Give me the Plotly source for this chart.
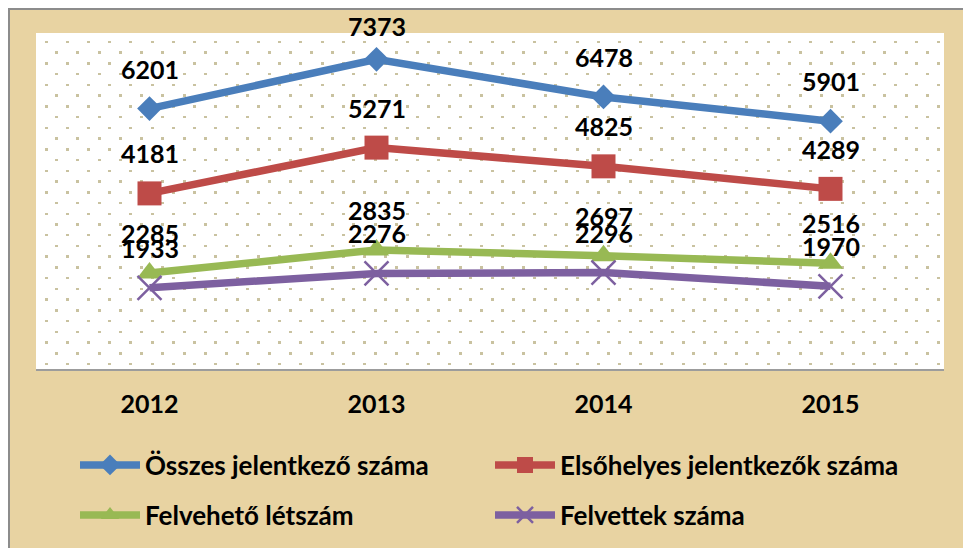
import plotly.graph_objects as go

# ---- data ----
years = ["2012", "2013", "2014", "2015"]
osszes = [6201, 7373, 6478, 5901]
elsohelyes = [4181, 5271, 4825, 4289]
felveheto = [2285, 2835, 2697, 2516]
felvettek = [1933, 2276, 2296, 1970]
names = ["Összes jelentkező száma", "Elsőhelyes jelentkezők száma",
         "Felvehető létszám", "Felvettek száma"]

colors = ["#4A7EBB", "#BE4B48", "#98B954", "#7D60A0"]
symbols = ["diamond", "square", "triangle-up", "x-thin"]
sizes = [19, 24, 22, 24]
legends = ["legend", "legend", "legend2", "legend2"]
series = [osszes, elsohelyes, felveheto, felvettek]

FONT = "Lato"
TAN = "#E8D3A2"
W, H = 971, 548
L, R, T, B = 28, 35, 25, 187
PLOT_H = H - T - B
YMAX = 8000

fig = go.Figure()

# invisible carriers for the two overlay axes that draw the dotted pattern
for ax in ["x2", "x3"]:
    fig.add_trace(go.Scatter(x=[None], y=[None], xaxis=ax, yaxis="y", mode="lines",
                             showlegend=False, hoverinfo="skip"))

for name, vals, col, sym, sz, lg in zip(names, series, colors, symbols, sizes, legends):
    fig.add_trace(go.Scatter(
        x=years, y=vals, name=name, mode="lines+markers",
        line=dict(color=col, width=7.5),
        marker=dict(symbol=sym, size=sz, color=col,
                    line=dict(color=col, width=2.5 if sym == "x-thin" else 0)),
        legend=lg, cliponaxis=False,
    ))

# data labels above points (category index used as x position);
# the offset is reduced near the top so a label never leaves the chart
for vals in series:
    for i, v in enumerate(vals):
        room = T + (1 - v / YMAX) * PLOT_H - 18
        fig.add_annotation(x=i, y=v, xref="x", yref="y", text=str(v),
                           showarrow=False, yshift=min(40, room),
                           font=dict(family=FONT, size=25, color="#000000", weight="bold"))

dot_color = "#C9C2A0"
legend_font = dict(family=FONT, size=26, color="#000000", weight="bold")
fig.update_layout(
    width=W, height=H,
    margin=dict(l=L, r=R, t=T, b=B),
    paper_bgcolor=TAN, plot_bgcolor="#FFFFFF",
    xaxis=dict(type="category", range=[-0.5, 3.5], showgrid=False, zeroline=False,
               showline=True, linecolor="#9C9C9C", linewidth=2,
               ticks="outside", ticklen=12, tickcolor="rgba(0,0,0,0)",
               tickfont=dict(family=FONT, size=25, color="#000000", weight="bold")),
    xaxis2=dict(overlaying="x", anchor="y", range=[0, 908], showticklabels=False,
                showgrid=True, tick0=10, dtick=21.24, gridcolor=dot_color, gridwidth=2.5,
                griddash="0px,7.75px,2.5px,11.22px", zeroline=False, ticks=""),
    xaxis3=dict(overlaying="x", anchor="y", range=[0, 908], showticklabels=False,
                showgrid=True, tick0=20.62, dtick=21.24, gridcolor=dot_color, gridwidth=2.5,
                griddash="0px,18.48px,2.5px,0.49px", zeroline=False, ticks=""),
    yaxis=dict(range=[0, YMAX], showgrid=False, zeroline=False, showticklabels=False,
               showline=False, ticks=""),
    legend=dict(orientation="h", xref="container", yref="container",
                x=67 / W, y=1 - 457 / H, xanchor="left", yanchor="middle",
                entrywidth=340, entrywidthmode="pixels", itemwidth=60,
                font=legend_font, bgcolor="rgba(0,0,0,0)"),
    legend2=dict(orientation="h", xref="container", yref="container",
                 x=67 / W, y=1 - 507 / H, xanchor="left", yanchor="middle",
                 entrywidth=340, entrywidthmode="pixels", itemwidth=60,
                 font=legend_font, bgcolor="rgba(0,0,0,0)"),
    showlegend=True,
)

# grey frame edge at top-left
fig.add_shape(type="line", xref="paper", yref="paper", x0=-L / 908, x1=1.1,
              y0=1 + (T - 1) / 336, y1=1 + (T - 1) / 336, line=dict(color="#8C8C8C", width=2))
fig.add_shape(type="line", xref="paper", yref="paper", x0=-(L - 1) / 908, x1=-(L - 1) / 908,
              y0=-1, y1=1 + T / 336, line=dict(color="#8C8C8C", width=2))

fig.write_html("out.html")
